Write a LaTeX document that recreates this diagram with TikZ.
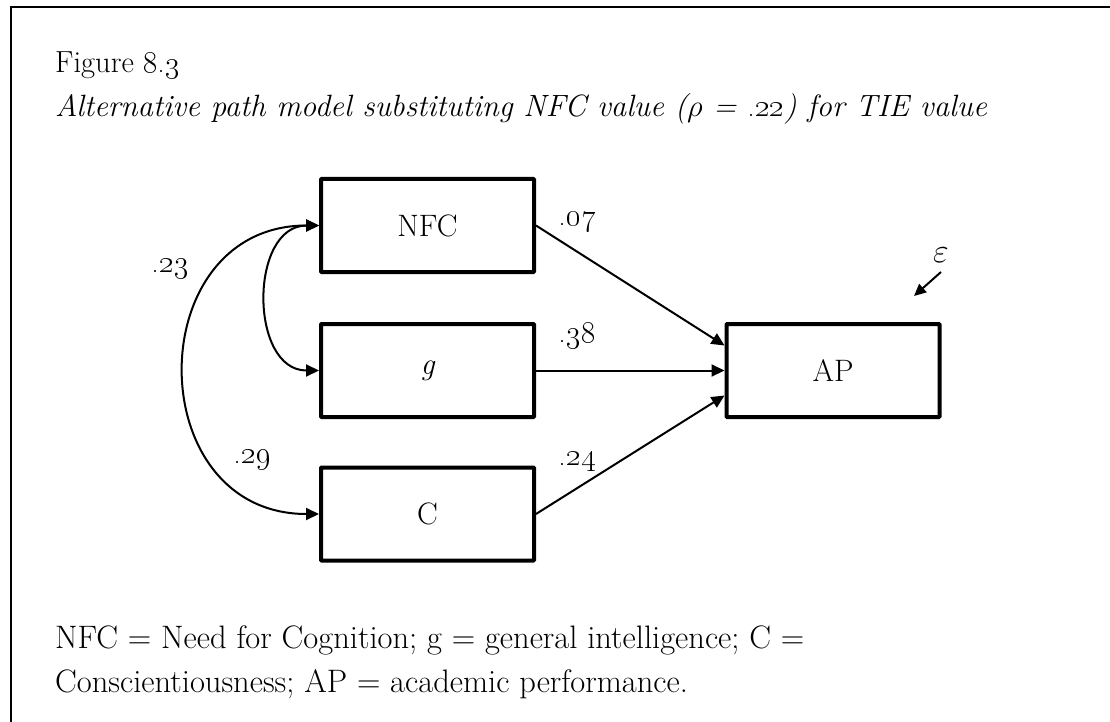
\RequirePackage{fix-cm}
\documentclass[tikz,border=0pt]{standalone}
\usetikzlibrary{arrows.meta}
\newcommand{\osn}[1]{\oldstylenums{#1}}
\tikzset{
  box/.style={draw, line width=4pt, minimum width=213pt, minimum height=93pt, inner sep=0pt, rounded corners=0.8pt, font=\fontsize{31}{36}\selectfont},
  lbl/.style={anchor=base, inner sep=0pt, font=\fontsize{31}{36}\selectfont},
  txt/.style={anchor=base west, inner sep=0pt, font=\fontsize{32.5}{38}\selectfont},
  path/.style={line width=2pt, -{Triangle[length=13pt,width=12pt]}},
  dpath/.style={line width=2pt, {Triangle[length=13pt,width=12pt]}-{Triangle[length=13pt,width=12pt]}},
}
\begin{document}
\begin{tikzpicture}[x=1pt,y=-1pt]
\useasboundingbox (0,0) rectangle (1110,722);
\fill[white] (0,0) rectangle (1110,722);
\draw[line width=2.8pt] (11,722) -- (11,7) -- (1112,7);
\node[txt, font=\fontsize{30.5}{36}\selectfont] (fig) at (55,73) {Figure \osn{8.3}};
\node[txt, font=\fontsize{30.8}{36}\selectfont] (title) at (55,117) {\itshape Alternative path model substituting NFC value ($\rho$ = \osn{.22}) for TIE value};
\node[txt] (note1) at (55,648) {NFC = Need for Cognition; g = general intelligence; C =};
\node[txt] (note2) at (55,692) {Conscientiousness; AP = academic performance.};
\node[box] (NFC) at (427.5,225.5) {NFC};
\node[box] (g) at (427.5,370.5) {\itshape g};
\node[box] (C) at (427.5,514) {C};
\node[box] (AP) at (833,370.5) {AP};
\draw[path] (NFC.east) -- ([yshift=25pt]AP.west);
\draw[path] (g.east) -- (AP.west);
\draw[path] (C.east) -- ([yshift=-25pt]AP.west);
\draw[dpath] (NFC.west) .. controls +(-179,0) and +(-179,0) .. (C.west);
\draw[dpath] (NFC.west) .. controls +(-70,0) and +(-70,0) .. (g.west);
\node[lbl] (l07) at (577,225) {\osn{.07}};
\node[lbl] (l38) at (577,342) {\osn{.38}};
\node[lbl] (l24) at (577,465) {\osn{.24}};
\node[lbl] (l23) at (170,272) {\osn{.23}};
\node[lbl] (l29) at (252,463) {\osn{.29}};
\node[lbl, font=\fontsize{34}{38}\selectfont] (eps) at (941,262) {$\varepsilon$};
\coordinate (e1) at (941,272);
\coordinate (e2) at (914,296);
\draw[line width=2pt, -{Triangle[length=12pt,width=11pt]}] (e1) -- (e2);
\end{tikzpicture}
\end{document}
